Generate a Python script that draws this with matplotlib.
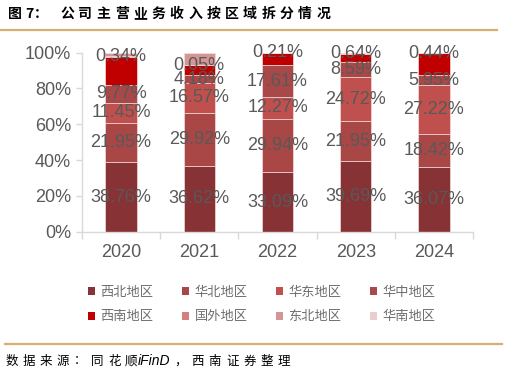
import matplotlib
matplotlib.use("Agg")
import matplotlib.pyplot as plt
import numpy as np
from matplotlib.patches import Patch
from matplotlib.lines import Line2D

years = ["2020", "2021", "2022", "2023", "2024"]
regions = ["西北地区", "华北地区", "华东地区", "华中地区", "西南地区", "国外地区", "东北地区", "华南地区"]
xibei = [38.76, 36.62, 33.09, 39.69, 36.07]
huabei = [21.95, 29.92, 29.94, 21.95, 18.42]
huadong = [11.45, 16.57, 12.27, 24.72, 27.22]
huazhong = [9.77, 4.18, 17.61, 8.59, 5.95]
xinan = [15.84, 5.60, 6.88, 4.41, 11.90]
guowai = [0.34, 0.05, 0.21, 0.64, 0.44]
dongbei = [1.89, 7.06, 0.0, 0.0, 0.0]
huanan = [0.0, 0.0, 0.0, 0.0, 0.0]
series = [xibei, huabei, huadong, huazhong, xinan, guowai, dongbei, huanan]
labeled = [True, True, True, True, False, True, False, False]
colors = ["#873234", "#A94646", "#C0504D", "#A84848", "#C00000", "#D47F7F", "#D69595", "#EBCDCD"]

CJK = ["Noto Sans CJK SC", "DejaVu Sans"]
NUM = ["Liberation Sans", "DejaVu Sans"]
GRAY = "#595959"

fig = plt.figure(figsize=(5.07, 3.76), dpi=100)
W, H = 507, 376
ax = fig.add_axes([82 / W, 1 - 231.7 / H, (473 - 82) / W, (231.7 - 52.7) / H])

x = np.arange(len(years))
bottom = np.zeros(len(years))
for vals, col, lab, show in zip(series, colors, regions, labeled):
    v = np.array(vals)
    ax.bar(x, v, 0.4, bottom=bottom, color=col, edgecolor="#F2DCDB", linewidth=0.5, label=lab)
    if show:
        for xi, b, vi in zip(x, bottom, v):
            ax.text(xi, b + vi / 2, f"{vi:.2f}%", ha="center", va="center",
                    fontsize=13, color=GRAY, family=NUM)
    bottom += v

ax.set_xlim(-0.5, len(years) - 0.5)
ax.set_ylim(0, 100)
ax.set_yticks(np.arange(0, 101, 20))
ax.set_yticklabels([f"{t}%" for t in range(0, 101, 20)], family=NUM, fontsize=13, color=GRAY)
ax.set_xticks(x)
ax.set_xticklabels(years, family=NUM, fontsize=13, color=GRAY)
ax.set_xticks(np.arange(-0.5, len(years), 1), minor=True)
ax.tick_params(axis="x", which="major", length=0, pad=9)
ax.tick_params(axis="x", which="minor", length=5, color="#D9D9D9", width=1)
ax.tick_params(axis="y", length=4, color="#D9D9D9", width=1, pad=4)
for s in ["top", "right"]:
    ax.spines[s].set_visible(False)
for s in ["left", "bottom"]:
    ax.spines[s].set_color("#D9D9D9")
    ax.spines[s].set_linewidth(1)

# legend (row-wise order: matplotlib fills columns first)
handles = [Patch(facecolor=c, edgecolor="none") for c in colors]
order = [0, 4, 1, 5, 2, 6, 3, 7]
leg = fig.legend([handles[i] for i in order], [regions[i] for i in order],
                 loc="upper left", bbox_to_anchor=(88 / W, 1 - 286 / H),
                 ncol=4, frameon=False, prop={"family": CJK, "size": 9.5},
                 handlelength=0.55, handleheight=0.55, handletextpad=0.4,
                 columnspacing=2.15, labelspacing=0.85, borderpad=0, borderaxespad=0)
for t in leg.get_texts():
    t.set_color("#6E6E6E")

# title, drawn char by char to mimic spacing
title_parts = [("图", 8), ("7", 25), ("：", 34)]
for ch, px in title_parts:
    fig.text(px / W, 1 - 14 / H, ch, family=CJK, fontsize=10, fontweight="bold",
             va="center", ha="left", color="#000000")
title_main = "公司主营业务收入按区域拆分情况"
for i, ch in enumerate(title_main):
    fig.text((60 + i * 18.3) / W, 1 - 14 / H, ch, family=CJK, fontsize=10, fontweight="bold",
             va="center", ha="left", color="#000000")

# gold rules
fig.add_artist(Line2D([0 / W, 497 / W], [1 - 30 / H, 1 - 30 / H], color="#D6AE72", lw=1.6))
fig.add_artist(Line2D([5 / W, 502 / W], [1 - 344 / H, 1 - 344 / H], color="#D6AE72", lw=1.6))

# source
src1 = "数据来源：同花顺"
for i, ch in enumerate(src1):
    fig.text((6 + i * 17) / W, 1 - 361 / H, ch, family=CJK, fontsize=9, va="center",
             ha="left", color="#000000")
fig.text(138 / W, 1 - 361 / H, "iFinD", family=NUM, fontsize=10, va="center", ha="left",
         color="#000000", style="italic")
src2 = "，西南证券整理"
for i, ch in enumerate(src2):
    fig.text((174 + i * 17.3) / W, 1 - 361 / H, ch, family=CJK, fontsize=9, va="center",
             ha="left", color="#000000")

fig.savefig("out.png", dpi=100)
